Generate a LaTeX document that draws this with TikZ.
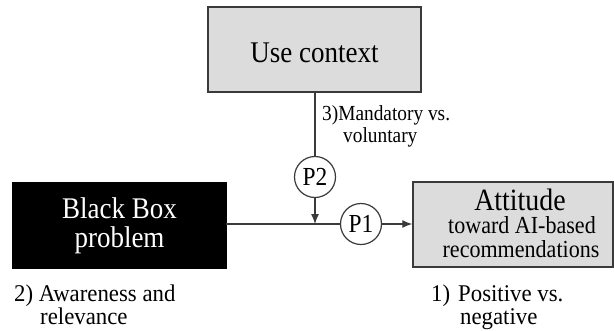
\documentclass[tikz,border=0pt]{standalone}
\usepackage{fontspec}
\setmainfont[FakeStretch=0.9]{Liberation Serif}
\newfontfamily\lblfont[FakeStretch=0.95]{Liberation Serif}
\usetikzlibrary{arrows.meta}
\definecolor{boxgray}{HTML}{DCDCDC}
\definecolor{linegray}{HTML}{3A3A3A}
\newcommand{\fsz}[1]{\fontsize{#1}{#1}\selectfont}
\begin{document}
\begin{tikzpicture}[x=1pt,y=-1pt,
  conn/.style={draw=linegray,line width=1.2pt},
  arr/.style={conn,-{Latex[length=10pt,width=8pt]}},
  greybox/.style={draw=linegray,line width=1.5pt,fill=boxgray,inner sep=0pt},
  blackbox/.style={draw=black,fill=black,inner sep=0pt},
  pcircle/.style={circle,draw=linegray,line width=1.2pt,fill=white,minimum size=41pt,inner sep=0pt,font=\fsz{26}},
  txt/.style={anchor=base,inner sep=0pt},
  lbl/.style={anchor=base west,inner sep=0pt},
  biglbl/.style={lbl,font=\lblfont\fsz{24}}
]
\useasboundingbox (0,0) rectangle (614,330);
% boxes
\node[greybox,minimum width=213pt,minimum height=85pt] (use) at (314.5,49.5) {};
\node[txt,font=\fsz{30}] (useT) at (314.5,62) {Use context};
\node[blackbox,minimum width=214pt,minimum height=86pt] (bb) at (119,225) {};
\node[txt,font=\fsz{30},text=white] (bbA) at (119.5,218) {Black Box};
\node[txt,font=\fsz{30},text=white] (bbB) at (119.5,247) {problem};
\node[greybox,minimum width=200pt,minimum height=85pt] (att) at (513,224.5) {};
\node[txt,font=\fsz{31}] (attA) at (520,210) {Attitude};
\node[txt,font=\fsz{24.5}] (attB) at (522,233) {toward AI-based};
\node[txt,font=\fsz{24.5}] (attC) at (521,257) {recommendations};
% moderators
\node[pcircle] (p2) at (315,177) {P2};
\node[pcircle] (p1) at (361,224) {P1};
\coordinate (j) at (315,224);
\draw[conn] (use.south -| p2) -- (p2.north);
\draw[arr] (p2.south) -- (j);
\draw[conn] (bb.east |- j) -- (p1.west);
\draw[arr] (p1.east) -- (att.west |- p1);
% labels
\node[lbl,font=\fsz{21.5}] (l3a) at (322,120) {3)Mandatory vs.};
\node[lbl,font=\fsz{21.5}] (l3b) at (343,142) {voluntary};
\node[biglbl] (l2a) at (14,301) {2)~Awareness and};
\node[biglbl] (l2b) at (40,324.5) {relevance};
\node[biglbl] (l1a) at (431,301) {1)\hspace{8pt}Positive vs.};
\node[biglbl] (l1b) at (460,324.5) {negative};
\end{tikzpicture}
\end{document}
